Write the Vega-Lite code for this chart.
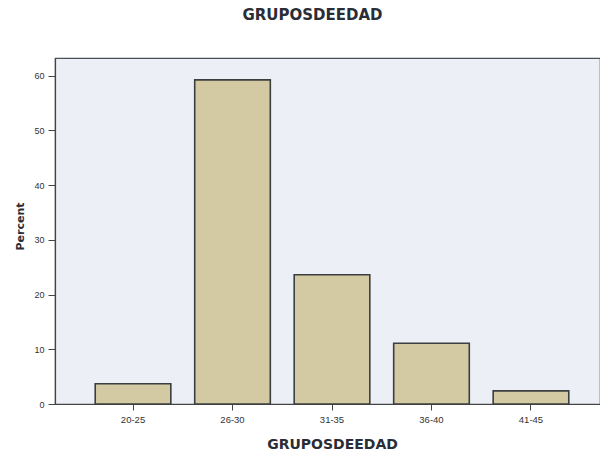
{
  "$schema": "https://vega.github.io/schema/vega-lite/v6.json",
  "width": 545,
  "height": 346,
  "autosize": "none",
  "padding": {"left": 55, "top": 58, "right": 0, "bottom": 47},
  "background": "#ffffff",
  "title": {
    "text": "GRUPOSDEEDAD",
    "font": "DejaVu Sans",
    "fontSize": 15,
    "fontWeight": "bold",
    "color": "#2a2d35",
    "anchor": "middle",
    "frame": "group",
    "dx": -15,
    "offset": 35
  },
  "config": {
    "view": {"fill": "#edeff6", "stroke": "#4a4f55", "strokeWidth": 1.2}
  },
  "data": {
    "values": [
      {"group": "20-25", "percent": 3.7},
      {"group": "26-30", "percent": 59.2},
      {"group": "31-35", "percent": 23.6},
      {"group": "36-40", "percent": 11.1},
      {"group": "41-45", "percent": 2.4}
    ]
  },
  "mark": {"type": "bar", "fill": "#d3c9a3", "stroke": "#3c3f40", "strokeWidth": 1.6},
  "encoding": {
    "x": {
      "field": "group",
      "type": "nominal",
      "sort": null,
      "scale": {"paddingInner": 0.24, "paddingOuter": 0.359, "align": 0.563},
      "axis": {
        "title": "GRUPOSDEEDAD",
        "titleFont": "DejaVu Sans",
        "titleFontSize": 14,
        "titleFontWeight": "bold",
        "titleColor": "#2a2d35",
        "titleX": 277,
        "titleY": 44,
        "titleAlign": "center",
        "titleBaseline": "alphabetic",
        "labelAngle": 0,
        "labelFont": "Liberation Sans",
        "labelFontSize": 9.5,
        "labelColor": "#333333",
        "labelPadding": 4,
        "tickSize": 6,
        "tickColor": "#444444",
        "domainColor": "#444444",
        "domainWidth": 1.2,
        "grid": false
      }
    },
    "y": {
      "field": "percent",
      "type": "quantitative",
      "scale": {"domain": [0, 63.2], "nice": false},
      "axis": {
        "title": "Percent",
        "titleFont": "DejaVu Sans",
        "titleFontSize": 11,
        "titleFontWeight": "bold",
        "titleColor": "#2a2d35",
        "titleX": -32,
        "titleY": 168,
        "titleAngle": -90,
        "titleAlign": "center",
        "titleBaseline": "alphabetic",
        "values": [0, 10, 20, 30, 40, 50, 60],
        "labelFont": "Liberation Sans",
        "labelFontSize": 9,
        "labelColor": "#333333",
        "labelPadding": 4,
        "tickSize": 7,
        "tickColor": "#444444",
        "domainColor": "#444444",
        "domainWidth": 1.2,
        "grid": false
      }
    }
  }
}
